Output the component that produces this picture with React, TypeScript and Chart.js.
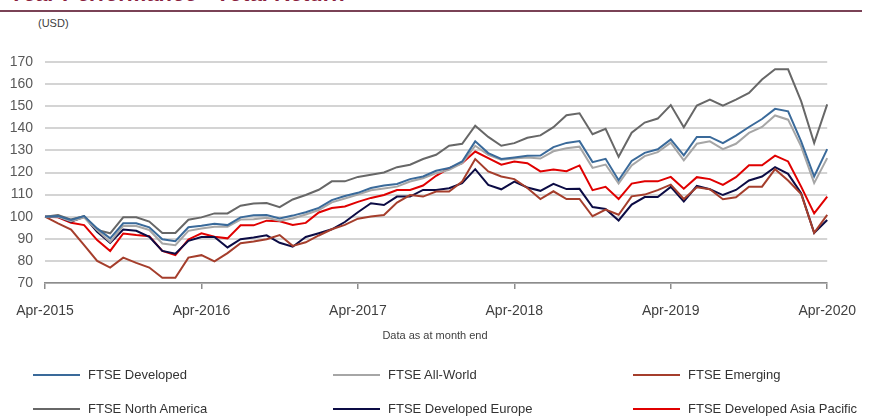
import React, { useEffect, useRef } from "react";
import { Chart, registerables } from "chart.js";

Chart.register(...registerables);

const months: string[] = [
  "Apr-2015", "May-2015", "Jun-2015", "Jul-2015", "Aug-2015", "Sep-2015", "Oct-2015", "Nov-2015", "Dec-2015",
  "Jan-2016", "Feb-2016", "Mar-2016", "Apr-2016", "May-2016", "Jun-2016", "Jul-2016", "Aug-2016", "Sep-2016", "Oct-2016", "Nov-2016", "Dec-2016",
  "Jan-2017", "Feb-2017", "Mar-2017", "Apr-2017", "May-2017", "Jun-2017", "Jul-2017", "Aug-2017", "Sep-2017", "Oct-2017", "Nov-2017", "Dec-2017",
  "Jan-2018", "Feb-2018", "Mar-2018", "Apr-2018", "May-2018", "Jun-2018", "Jul-2018", "Aug-2018", "Sep-2018", "Oct-2018", "Nov-2018", "Dec-2018",
  "Jan-2019", "Feb-2019", "Mar-2019", "Apr-2019", "May-2019", "Jun-2019", "Jul-2019", "Aug-2019", "Sep-2019", "Oct-2019", "Nov-2019", "Dec-2019",
  "Jan-2020", "Feb-2020", "Mar-2020", "Apr-2020",
];

const shownTicks: string[] = ["Apr-2015", "Apr-2016", "Apr-2017", "Apr-2018", "Apr-2019", "Apr-2020"];

const ftseDeveloped: number[] = [
  100, 100.3, 98.5, 100.3, 94.7, 90.2, 97, 97, 95.2, 89.8,
  88.9, 95.2, 95.9, 96.8, 96.2, 99.7, 100.7, 100.8, 99.2, 100.5,
  102, 104, 107.5, 109.4, 110.8, 113, 114.1, 114.8, 117, 118.2,
  120.8, 122, 125, 134.1, 128.8, 126.1, 126.8, 127.6, 127.7, 131.5,
  133.4, 134.2, 124.7, 126.2, 116.5, 125.2, 128.9, 130.5, 135, 127.8,
  136.1, 136.1, 133.3, 136.7, 140.6, 144.2, 148.8, 147.7, 134.1, 118.2, 130.6,
];

const ftseAllWorld: number[] = [
  100, 100, 98, 99.6, 94, 88.5, 95.8, 95.8, 94, 87.9,
  87.1, 93.6, 94.7, 95.4, 95.4, 98.7, 98.8, 99.5, 98.2, 99.2,
  101, 103, 106.5, 108.2, 110, 112, 112.8, 113.6, 115.9, 117.4,
  119.7, 121.2, 124.2, 132.1, 128, 125.8, 126.3, 126.8, 126.3, 129.6,
  131, 131.7, 122.1, 123.6, 115, 123.2, 127.4, 129.2, 133.5, 125.5,
  133, 134.1, 130.6, 133, 137.9, 140.6, 145.8, 143.9, 131.8, 115.2, 126.5,
];

const ftseEmerging: number[] = [
  100, 97, 94.2, 87.1, 80, 77, 81.5, 79.1, 77, 72.4,
  72.4, 81.5, 82.6, 79.8, 83.5, 88, 88.8, 89.8, 91.7, 86.8,
  88.4, 91.5, 94.3, 96.3, 99.1, 100.1, 100.8, 106.4, 109.8, 109.1,
  111.4, 111.4, 115.9, 126.1, 120.5, 118.2, 117, 113, 108, 111.5,
  108, 108, 100.2, 103.2, 100.9, 109.2, 110, 112, 114.5, 108,
  113.3, 112.4, 107.9, 108.8, 113.6, 113.6, 121.5, 116.4, 110.3, 92.7, 100.8,
];

const ftseNorthAmerica: number[] = [
  100, 100.8, 98.7, 100.3, 94, 92.5, 99.7, 99.7, 97.8, 92.6,
  92.6, 98.6, 99.7, 101.5, 101.5, 105, 106, 106.2, 104.3, 107.8,
  109.8, 112.2, 116, 116, 118, 119, 120, 122.4, 123.5, 126.1,
  128, 132.1, 133, 141.2, 136.1, 132.1, 133.3, 135.7, 136.8, 140.5,
  145.9, 146.8, 137.3, 139.8, 127.1, 138, 142.6, 144.4, 150.5, 140.5,
  150.3, 153, 150.3, 153, 156, 162.1, 166.7, 166.7, 152.3, 133.3, 150.8,
];

const ftseDevelopedEurope: number[] = [
  100, 100, 97.7, 100, 93.2, 88.2, 94.2, 93.6, 90.9, 84.5,
  83.3, 89.1, 90.8, 90.8, 86.1, 89.8, 90.6, 91.6, 88.2, 86.4,
  90.8, 92.5, 94.3, 97.6, 102, 106.1, 105.3, 109.1, 109.1, 112.1,
  112.1, 112.9, 115.2, 121.5, 114.4, 112.4, 115.9, 113.2, 111.7, 114.9,
  112.5, 112.6, 104.4, 103.5, 98.3, 105.5, 108.9, 108.9, 113.5, 106.9,
  113.9, 112.4, 109.8, 112.1, 116.4, 118.2, 122.4, 119.4, 110.6, 92.7, 98.5,
];

const ftseDevelopedAsiaPacific: number[] = [
  100, 99.7, 97.3, 96.2, 89.4, 84.5, 92.4, 91.7, 91.2, 84.5,
  82.6, 89.7, 92.5, 90.9, 90.2, 96.1, 96.1, 98.2, 97.9, 96.3,
  97.2, 101.9, 103.9, 104.6, 106.7, 108.5, 109.8, 112.1, 112.1, 114.1,
  118.5, 122, 124.2, 129.5, 126.5, 123.5, 125, 124.2, 120.5, 121.3,
  120.6, 123.2, 112, 113.5, 108, 115, 116, 116, 118, 112.7,
  117.9, 117, 114.4, 117.9, 123.3, 123.3, 127.6, 125, 113.6, 101.5, 109.1,
];

const seriesNames: string[] = [
  "FTSE Developed", "FTSE All-World", "FTSE Emerging",
  "FTSE North America", "FTSE Developed Europe", "FTSE Developed Asia Pacific",
];
const seriesColors: string[] = ["#3a6a9a", "#a6a6a6", "#a53e2c", "#676767", "#0c0c45", "#e00000"];
const seriesData: number[][] = [
  ftseDeveloped, ftseAllWorld, ftseEmerging,
  ftseNorthAmerica, ftseDevelopedEurope, ftseDevelopedAsiaPacific,
];

const yMin = 70;
const yMax = 170;
const yStep = 10;

const FONT = "'Liberation Sans', Arial, sans-serif";

export default function App() {
  const canvasRef = useRef<HTMLCanvasElement | null>(null);

  useEffect(() => {
    if (!canvasRef.current) return;
    const chart = new Chart(canvasRef.current, {
      type: "line",
      data: {
        labels: months,
        datasets: seriesNames.map((name, i) => ({
          label: name,
          data: seriesData[i],
          borderColor: seriesColors[i],
          backgroundColor: seriesColors[i],
          borderWidth: 2,
          pointRadius: 0,
          tension: 0,
          fill: false,
        })),
      },
      options: {
        animation: false,
        responsive: false,
        maintainAspectRatio: false,
        devicePixelRatio: 1,
        layout: { padding: { left: 0, right: 36, top: 62, bottom: 94 } },
        plugins: {
          legend: { display: false },
          tooltip: { enabled: false },
          title: { display: false },
        },
        scales: {
          x: {
            type: "category",
            offset: false,
            afterFit: (scale: any) => {
              scale.height = 40;
            },
            grid: {
              drawOnChartArea: false,
              drawTicks: true,
              tickLength: 6,
              lineWidth: 1.5,
              color: (ctx: any) =>
                shownTicks.includes(months[ctx.index]) ? "#8c8c8c" : "rgba(0,0,0,0)",
            },
            border: { display: true, color: "#8c8c8c", width: 1.5 },
            ticks: {
              autoSkip: false,
              maxRotation: 0,
              minRotation: 0,
              padding: 14,
              color: "#404040",
              font: { family: FONT, size: 14 },
              callback: (_v: any, idx: number) =>
                shownTicks.includes(months[idx]) ? months[idx] : "",
            },
          },
          y: {
            min: yMin,
            max: yMax,
            afterFit: (scale: any) => {
              scale.width = 45;
            },
            grid: {
              drawTicks: false,
              color: "#d4d4d4",
              lineWidth: 2,
            },
            border: { display: false },
            ticks: {
              stepSize: yStep,
              padding: 12,
              color: "#595959",
              font: { family: FONT, size: 14 },
            },
          },
        },
      },
    });
    return () => chart.destroy();
  }, []);

  const legendCols = [33, 333, 633];
  const legendRows = [375, 409];

  return (
    <div
      style={{
        position: "absolute",
        left: 0,
        top: 0,
        width: 870,
        height: 417,
        overflow: "hidden",
        background: "#ffffff",
        fontFamily: FONT,
      }}
    >
      <div
        style={{
          position: "absolute",
          left: 10,
          top: -17,
          fontSize: 22,
          lineHeight: "22px",
          fontWeight: "bold",
          fontStyle: "italic",
          color: "#8a1f3f",
          whiteSpace: "nowrap",
        }}
      >
        Year Performance - Total Return
      </div>
      <div
        style={{
          position: "absolute",
          left: 0,
          top: 10,
          width: 862,
          height: 2,
          background: "#7a4256",
        }}
      />
      <div
        style={{
          position: "absolute",
          left: 38,
          top: 16,
          fontSize: 11,
          lineHeight: "14px",
          color: "#404040",
        }}
      >
        (USD)
      </div>
      <canvas
        ref={canvasRef}
        width={870}
        height={417}
        style={{ position: "absolute", left: 0, top: 0, width: 870, height: 417 }}
      />
      <div
        style={{
          position: "absolute",
          left: 0,
          width: 870,
          top: 328,
          textAlign: "center",
          fontSize: 11,
          lineHeight: "14px",
          color: "#404040",
        }}
      >
        Data as at month end
      </div>
      {seriesNames.map((name, i) => {
        const col = i % 3;
        const row = Math.floor(i / 3);
        const x = legendCols[col];
        const y = legendRows[row];
        return (
          <div key={name}>
            <div
              style={{
                position: "absolute",
                left: x,
                top: y - 1,
                width: 47,
                height: 2,
                background: seriesColors[i],
              }}
            />
            <div
              style={{
                position: "absolute",
                left: x + 55,
                top: y - 8,
                fontSize: 13,
                lineHeight: "16px",
                color: "#333333",
                whiteSpace: "nowrap",
              }}
            >
              {name}
            </div>
          </div>
        );
      })}
    </div>
  );
}
